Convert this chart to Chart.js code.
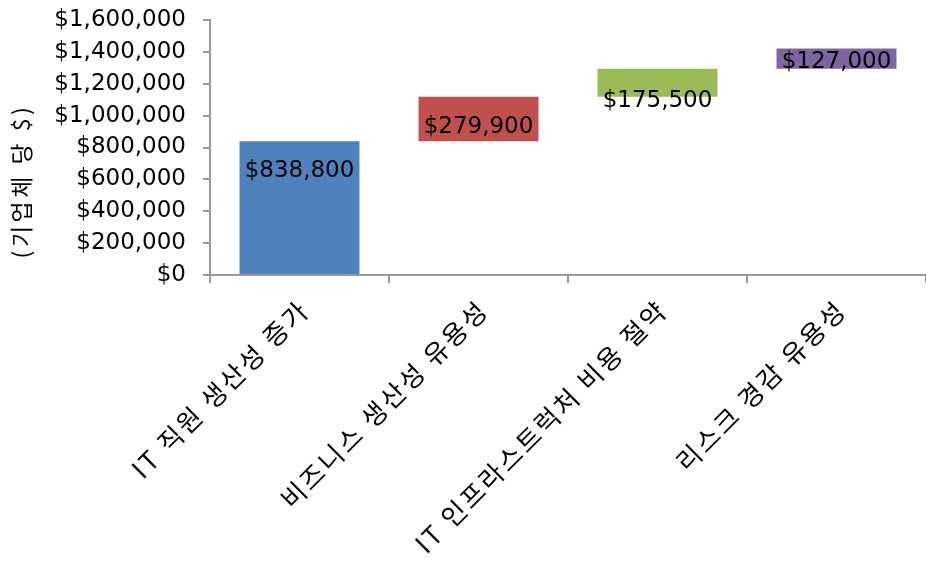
<!DOCTYPE html>
<html>
<head>
<meta charset="utf-8">
<script src="https://cdn.jsdelivr.net/npm/chart.js@4"></script>
<style>
  html, body { margin: 0; padding: 0; background: #fff; }
  #wrap { width: 926px; height: 562px; }
</style>
</head>
<body>
<div id="wrap"><canvas id="myWaterfall"></canvas></div>
<script>
// WATERFALL CHART SCRIPT

var categories = [
  'IT 직원 생산성 증가',
  '비즈니스 생산성 유용성',
  'IT 인프라스트럭처 비용 절약',
  '리스크 경감 유용성'
];
var gains = [838800, 279900, 175500, 127000];
var barColors = ['#4F81BD', '#C0504D', '#9BBB59', '#8064A2'];
var yTicks = [0, 200000, 400000, 600000, 800000, 1000000, 1200000, 1400000, 1600000];
var yTitle = '(기업체 당 $)';

// floating bars: each one starts where the previous ended
var floating = [];
var running = 0;
gains.forEach(function (g) {
  floating.push([running, running + g]);
  running += g;
});

function money(v) {
  return '$' + v.toLocaleString('en-US');
}

var labelFont = '23px "DejaVu Sans"';
var labelOffsets = [30, 30, 32, 14];

var valueLabels = {
  id: 'valueLabels',
  afterDatasetsDraw: function (chart) {
    var ctx = chart.ctx;
    var meta = chart.getDatasetMeta(0);
    ctx.save();
    ctx.font = labelFont;
    ctx.fillStyle = '#000';
    ctx.textAlign = 'center';
    ctx.textBaseline = 'middle';
    meta.data.forEach(function (bar, i) {
      ctx.fillText(money(gains[i]), bar.x, bar.y + labelOffsets[i]);
    });
    ctx.restore();
  }
};

// slanted category names, drawn at the x scale's tick positions
var slantLabels = {
  id: 'slantLabels',
  afterDraw: function (chart) {
    var ctx = chart.ctx;
    var xs = chart.scales.x;
    ctx.save();
    ctx.font = '26px "Noto Sans CJK KR"';
    ctx.letterSpacing = '2.5px';
    ctx.fillStyle = '#000';
    ctx.textAlign = 'right';
    ctx.textBaseline = 'middle';
    categories.forEach(function (c, i) {
      ctx.save();
      ctx.translate(xs.getPixelForTick(i) + 5, xs.top + 30);
      ctx.rotate(-Math.PI / 4);
      ctx.fillText(c, 0, 0);
      ctx.restore();
    });
    ctx.restore();
  }
};

var sideTitle = {
  id: 'sideTitle',
  afterDraw: function (chart) {
    var ctx = chart.ctx;
    ctx.save();
    ctx.translate(21, 181);
    ctx.rotate(-Math.PI / 2);
    ctx.font = '23px "Noto Sans CJK KR"';
    ctx.letterSpacing = '3.5px';
    ctx.fillStyle = '#000';
    ctx.textAlign = 'center';
    ctx.textBaseline = 'middle';
    ctx.fillText(yTitle, 0, 0);
    ctx.restore();
  }
};

var ctxWaterfall = document.getElementById('myWaterfall').getContext('2d');
var myChart = new Chart(ctxWaterfall, {
  type: 'bar',
  data: {
    labels: categories,
    datasets: [{
      label: 'Savings',
      data: floating,
      backgroundColor: barColors,
      barPercentage: 0.67,
      categoryPercentage: 1.0
    }]
  },
  options: {
    responsive: true,
    maintainAspectRatio: false,
    animation: false,
    layout: { padding: { top: 20, right: 0, left: 0, bottom: 0 } },
    plugins: {
      legend: { display: false },
      tooltip: { enabled: false }
    },
    scales: {
      x: {
        grid: {
          display: true,
          drawOnChartArea: false,
          drawTicks: true,
          tickLength: 8,
          color: '#9a9a9a',
          lineWidth: 2,
          offset: true
        },
        border: { color: '#9a9a9a', width: 2 },
        ticks: { display: false },
        afterFit: function (scale) {
          scale.height = 287;
          scale.paddingLeft = 0;
          scale.paddingRight = 0;
        }
      },
      y: {
        min: 0,
        max: 1600000,
        afterBuildTicks: function (scale) {
          scale.ticks = yTicks.map(function (v) { return { value: v }; });
        },
        grid: {
          display: true,
          drawOnChartArea: false,
          drawTicks: true,
          tickLength: 7,
          color: '#9a9a9a',
          lineWidth: 2
        },
        border: { color: '#9a9a9a', width: 2 },
        ticks: {
          color: '#000',
          font: { family: '"DejaVu Sans"', size: 23 },
          padding: 17,
          autoSkip: false,
          callback: function (v) { return money(v); }
        },
        afterFit: function (scale) {
          scale.width = 210;
          scale.paddingTop = 0;
          scale.paddingBottom = 0;
        }
      }
    }
  },
  plugins: [valueLabels, slantLabels, sideTitle]
});
</script>
</body>
</html>
